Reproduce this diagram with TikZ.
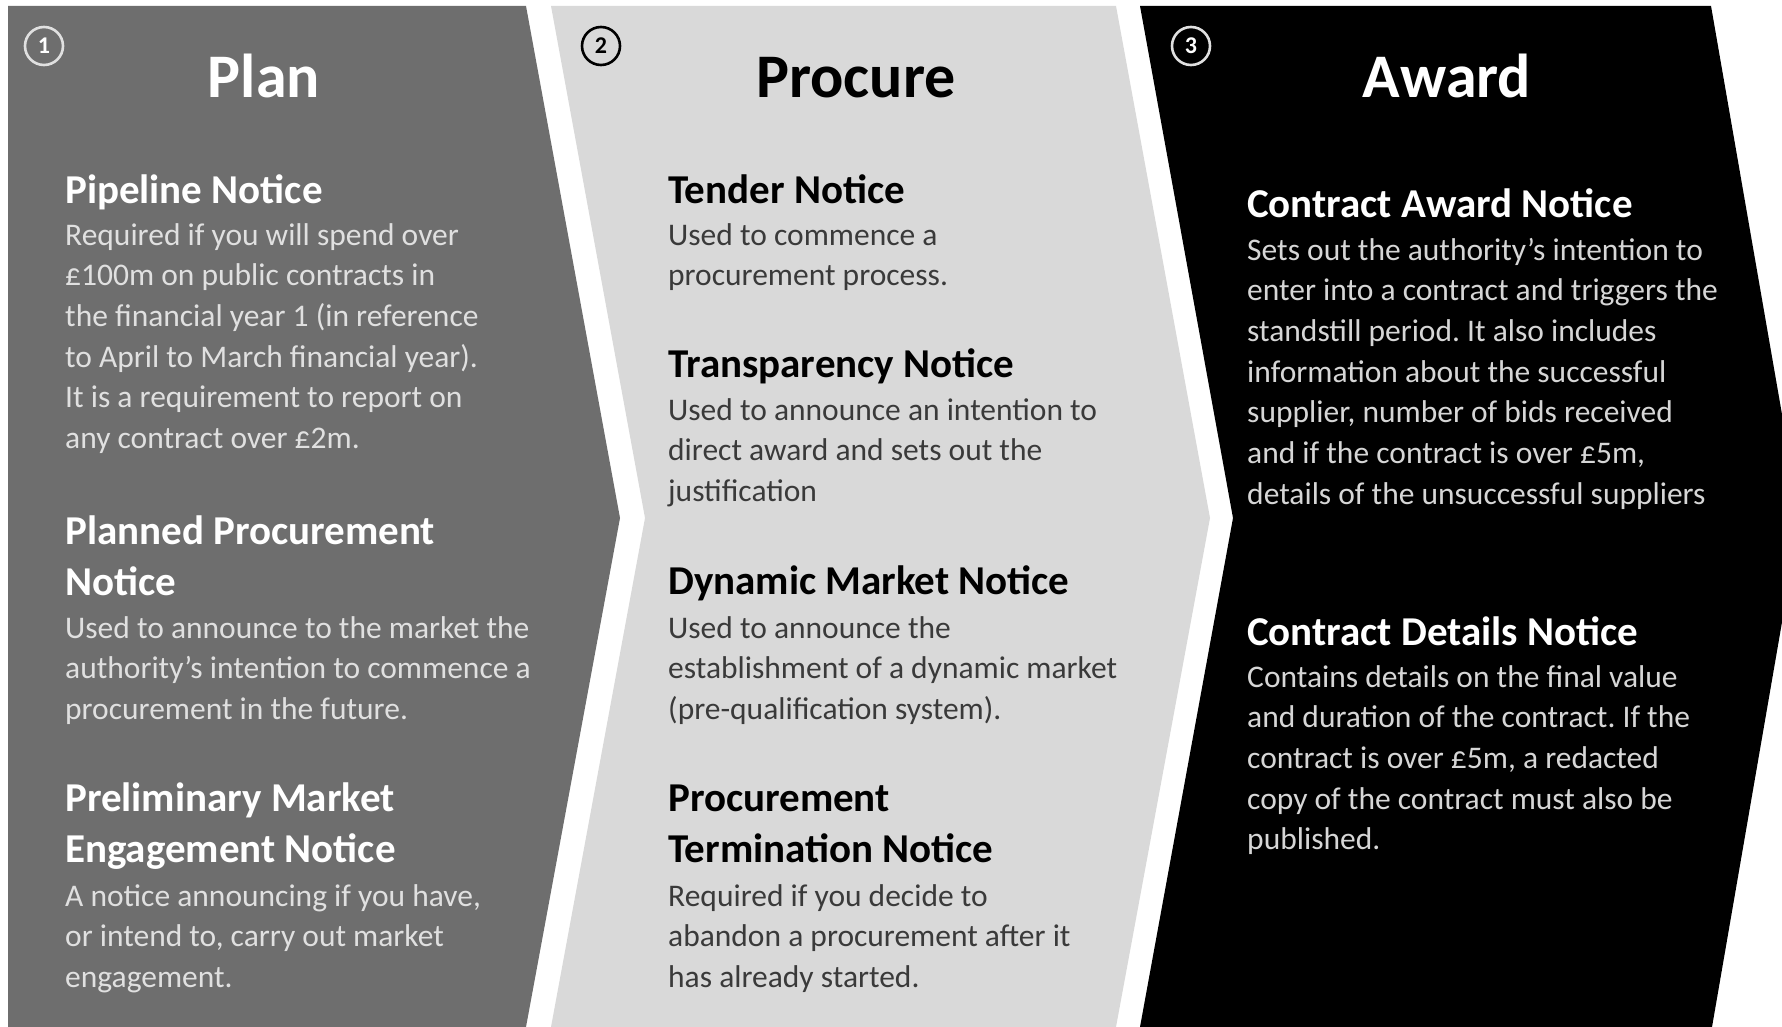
\documentclass[tikz,border=0pt]{standalone}
\usepackage{fontspec}
\setmainfont{Carlito}
\usepackage{xcolor}
\usepackage{tikz}
\usetikzlibrary{positioning,calc}
\definecolor{plangray}{RGB}{110,110,110}
\definecolor{procgray}{RGB}{217,217,217}
\definecolor{plantext}{RGB}{224,224,224}
\definecolor{proctext}{RGB}{58,58,58}
\definecolor{awardtext}{RGB}{214,214,214}
\frenchspacing

\begin{document}
\begin{tikzpicture}[x = 1pt, y = -1pt,
    stagetitle/.style = {anchor = base, inner sep = 0pt, font = \fontsize{62}{62}\selectfont\bfseries},
    stagenum/.style = {circle, draw, line width = 2.6pt, minimum size = 38pt, inner sep = 0pt, font = \fontsize{24}{24}\selectfont\bfseries},
    noticehead/.style = {anchor = base west, align = left, inner sep = 0pt, font = \fontsize{41}{51}\selectfont\bfseries},
    noticebody/.style = {anchor = base west, align = left, inner sep = 0pt, font = \fontsize{31.5}{40.7}\selectfont}]
    \clip (0,0) rectangle (1782,1027);
    \fill[plangray] (8,6) -- (526,6) -- (620,518) -- (526,1027) -- (8,1027) -- cycle;
    \fill[procgray] (551,6) -- (1116,6) -- (1210,518) -- (1116,1027) -- (551,1027) -- (645,518) -- cycle;
    \fill[black] (1140,6) -- (1711,6) -- (1800,518) -- (1712,1027) -- (1140,1027) -- (1233,518) -- cycle;

    \node[stagenum, draw = plantext, text = white] (num1) at (44,46) {1};
    \node[stagenum, draw = black, text = black] (num2) at (601,46) {2};
    \node[stagenum, draw = plantext, text = white] (num3) at (1191,46) {3};

    \node[stagetitle, white] (plan) at (264,98) {Plan};
    \node[stagetitle, black] (procure) at (856,98) {Procure};
    \node[stagetitle, white] (award) at (1447,98) {Award};

    % multi-line nodes sit on the baseline of their last line
    \node[noticehead, white] (pipehead) at (65,204) {Pipeline Notice};
    \node[noticebody, plantext] (pipebody) at (65,448.5) {Required if you will spend over\\£100m on public contracts in\\the financial year 1 (in reference\\to April to March financial year).\\It is a requirement to report on\\any contract over £2m.};
    \node[noticehead, white] (plannedhead) at (65,595) {Planned Procurement\\Notice};
    \node[noticebody, plantext] (plannedbody) at (65,719.4) {Used to announce to the market the\\authority's intention to commence a\\procurement in the future.};
    \node[noticehead, white] (prelimhead) at (65,862) {Preliminary Market\\Engagement Notice};
    \node[noticebody, plantext] (prelimbody) at (65,987.4) {A notice announcing if you have,\\or intend to, carry out market\\engagement.};

    \node[noticehead, black] (tenderhead) at (668,204) {Tender Notice};
    \node[noticebody, proctext] (tenderbody) at (668,285.7) {Used to commence a\\procurement process.};
    \node[noticehead, black] (transphead) at (668,377) {Transparency Notice};
    \node[noticebody, proctext] (transpbody) at (668,501.4) {Used to announce an intention to\\direct award and sets out the\\justification};
    \node[noticehead, black] (dynhead) at (668,594) {Dynamic Market Notice};
    \node[noticebody, proctext] (dynbody) at (668,719.4) {Used to announce the\\establishment of a dynamic market\\(pre-qualification system).};
    \node[noticehead, black] (termhead) at (668,862) {Procurement\\Termination Notice};
    \node[noticebody, proctext] (termbody) at (668,987.4) {Required if you decide to\\abandon a procurement after it\\has already started.};

    \node[noticehead, white] (cawardhead) at (1247,218) {Contract Award Notice};
    \node[noticebody, awardtext] (cawardbody) at (1247,504.2) {Sets out the authority's intention to\\enter into a contract and triggers the\\standstill period. It also includes\\information about the successful\\supplier, number of bids received\\and if the contract is over £5m,\\details of the unsuccessful suppliers};
    \node[noticehead, white] (cdetailhead) at (1247,645) {Contract Details Notice};
    \node[noticebody, awardtext] (cdetailbody) at (1247,849.8) {Contains details on the final value\\and duration of the contract. If the\\contract is over £5m, a redacted\\copy of the contract must also be\\published.};
\end{tikzpicture}
\end{document}
